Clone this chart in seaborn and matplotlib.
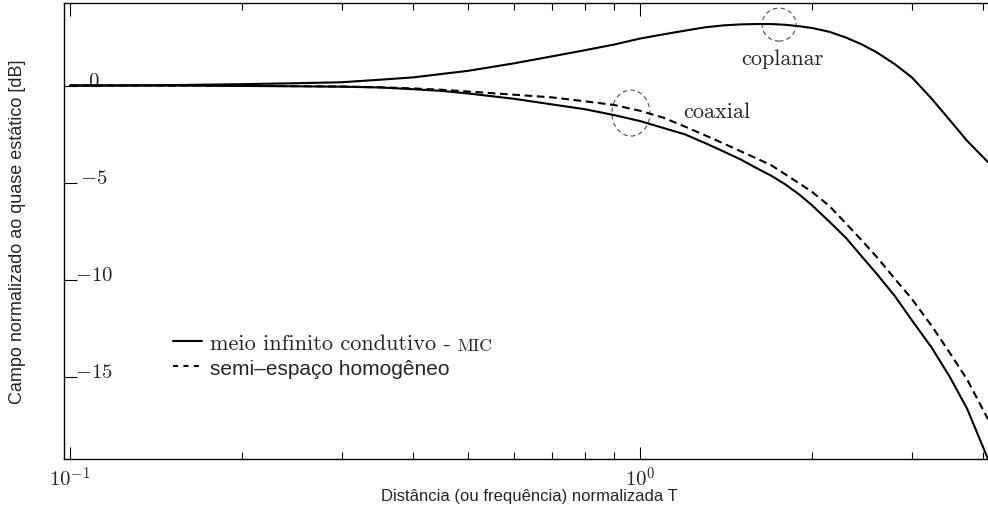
import numpy as np
import seaborn as sns
import matplotlib.pyplot as plt
import matplotlib.transforms as mtransforms
from matplotlib.patches import Ellipse
from matplotlib.lines import Line2D
from matplotlib.ticker import LogLocator, NullFormatter

# distancia (ou frequencia) normalizada T
T = [0.1, 0.15, 0.2, 0.25, 0.3, 0.35, 0.4, 0.45, 0.5, 0.6, 0.7, 0.8, 0.9, 1.0,
     1.1, 1.2, 1.3, 1.4, 1.5, 1.6, 1.7, 1.8, 1.9, 2.0, 2.15, 2.3, 2.45, 2.6,
     2.8, 3.0, 3.25, 3.5, 3.75, 4.08]

# campo normalizado ao quase estatico [dB]
coplanar_db = [0.0, 0.02, 0.07, 0.12, 0.17, 0.30, 0.42, 0.60, 0.76, 1.14, 1.50, 1.82, 2.11, 2.42,
               2.64, 2.83, 3.00, 3.10, 3.15, 3.17, 3.17, 3.13, 3.06, 2.97, 2.77, 2.47, 2.12, 1.72,
               1.10, 0.42, -0.68, -1.80, -2.85, -3.95]
coaxial_db = [0.0, 0.0, -0.02, -0.04, -0.06, -0.10, -0.19, -0.28, -0.41, -0.68, -0.97, -1.22, -1.52, -1.83,
              -2.19, -2.52, -2.96, -3.39, -3.80, -4.25, -4.65, -5.10, -5.60, -6.15, -7.02, -7.86, -8.81, -9.69,
              -10.85, -12.1, -13.51, -15.04, -16.66, -19.25]
semi_espaco_db = [0.0, 0.0, -0.01, -0.03, -0.05, -0.09, -0.15, -0.22, -0.31, -0.47, -0.61, -0.81, -1.00, -1.30,
                  -1.66, -2.12, -2.56, -2.98, -3.38, -3.75, -4.11, -4.58, -5.03, -5.46, -6.21, -7.12, -7.98, -8.82,
                  -9.96, -11.0, -12.39, -13.8, -15.15, -17.2]

y_ticks = [0, -5, -10, -15]
y_tick_labels = [r"$0$", r"$-5$", r"$-10$", r"$-15$"]
x_ticks = [0.1, 1.0]
x_tick_labels = [r"$10^{-1}$", r"$10^{0}$"]

sns.set_style("ticks")
plt.rcParams["mathtext.fontset"] = "cm"
plt.rcParams["font.family"] = ["Liberation Sans", "DejaVu Sans"]

fig = plt.figure(figsize=(9.88, 5.10), dpi=100)
ax = fig.add_axes([64 / 988, 50 / 510, 924 / 988, 456.5 / 510])

sns.lineplot(x=T, y=coplanar_db, ax=ax, color="black", lw=1.5)
sns.lineplot(x=T, y=coaxial_db, ax=ax, color="black", lw=1.5)
sns.lineplot(x=T, y=semi_espaco_db, ax=ax, color="black", lw=1.5, linestyle=(0, (3.7, 2.2)))
ax.set_xscale("log")


def ring(x, y, w_px, h_px):
    trans = fig.dpi_scale_trans + mtransforms.ScaledTranslation(x, y, ax.transData)
    e = Ellipse((0, 0), w_px / 100, h_px / 100, transform=trans, fill=False,
                linestyle=(0, (4, 3)), lw=0.8, edgecolor="0.3")
    ax.add_patch(e)


ring(1.754, 3.14, 34, 33)
ring(0.964, -1.42, 38, 46)

ax.text(1.78, 1.11, "coplanar", family="cmr10", fontsize=16, ha="center", va="baseline")
ax.text(1.365, -1.62, "coaxial", family="cmr10", fontsize=16, ha="center", va="baseline")

ax.set_xlim(0.0976, 4.08)
ax.set_ylim(-19.25, 4.28)

ax.set_xticks(x_ticks, labels=x_tick_labels)
ax.xaxis.set_minor_locator(LogLocator(base=10, subs=np.arange(2, 10)))
ax.xaxis.set_minor_formatter(NullFormatter())
ax.tick_params(axis="x", which="major", direction="in", length=9, width=0.8,
               top=True, pad=4.5, labelsize=15, color="black")
ax.tick_params(axis="x", which="minor", direction="in", length=5, width=0.8,
               top=True, color="black")

ax.set_yticks(y_ticks, labels=y_tick_labels)
ax.tick_params(axis="y", direction="in", length=9, width=0.8, pad=-21.6,
               labelsize=15, color="black")
for lbl in ax.get_yticklabels():
    lbl.set_ha("center")
    lbl.set_va("baseline")

for s in ax.spines.values():
    s.set_color("black")
    s.set_linewidth(1.0)
ax.spines["right"].set_visible(False)

ax.set_ylabel("Campo normalizado ao quase estático [dB]", fontsize=13)
ax.yaxis.set_label_coords(-0.041, 0.5)
ax.set_xlabel("Distância (ou frequência) normalizada T", fontsize=12)
ax.xaxis.set_label_coords(0.504, -0.064)

handles = [Line2D([], [], color="black", lw=1.5),
           Line2D([], [], color="black", lw=1.5, linestyle=(0, (2.4, 2.6)))]
leg = ax.legend(handles, ["meio infinito condutivo -", "semi\u2013espaço homogêneo"],
                loc="upper left", bbox_to_anchor=(0.118, 0.276), frameon=False,
                borderpad=0, borderaxespad=0, handlelength=1.3, handletextpad=0.36,
                labelspacing=0.25, prop={"family": "cmr10", "size": 16})
leg.get_texts()[1].set_fontfamily(["Liberation Sans", "DejaVu Sans"])
leg.get_texts()[1].set_fontsize(15)

# small caps "MIC" after the first legend entry
fig.canvas.draw()
bb = leg.get_texts()[0].get_window_extent(fig.canvas.get_renderer())
fig.text((bb.x1 + 7) / 988, bb.y0 / 510, "MIC", family="cmr10", fontsize=12.5,
         ha="left", va="bottom")

fig.savefig("out.png", dpi=100)
